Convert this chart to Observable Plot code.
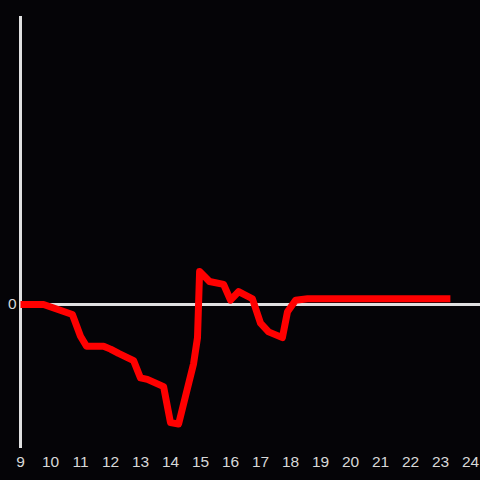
<!DOCTYPE html>
<html>
<head>
<meta charset="utf-8">
<script src="https://cdn.jsdelivr.net/npm/d3@7"></script>
<script src="https://cdn.jsdelivr.net/npm/@observablehq/plot@0.6"></script>
<style>
  html, body { margin: 0; padding: 0; background: #050407; }
  #chart { width: 480px; height: 480px; }
</style>
</head>
<body>
<div id="chart"></div>
<script>
const hours = [9.0, 9.77, 10.73, 11.0, 11.2, 11.77, 12.0, 12.27, 12.77, 13.0, 13.23, 13.77, 14.0, 14.27, 14.77, 14.9, 14.97, 15.3, 15.77, 16.0, 16.27, 16.73, 17.0, 17.27, 17.73, 17.9, 18.17, 18.57, 23.33];
const values = [0, 0, -0.069, -0.22, -0.29, -0.29, -0.31, -0.34, -0.39, -0.51, -0.52, -0.57, -0.82, -0.83, -0.41, -0.23, 0.23, 0.16, 0.14, 0.03, 0.09, 0.04, -0.13, -0.19, -0.23, -0.05, 0.03, 0.04, 0.04];
const xTicks = [9, 10, 11, 12, 13, 14, 15, 16, 17, 18, 19, 20, 21, 22, 23, 24];
const yTicks = [0];

const data = hours.map((h, i) => ({h, v: values[i]}));

const chart = Plot.plot({
  width: 480,
  height: 480,
  marginLeft: 20,
  marginRight: 10,
  marginTop: 16,
  marginBottom: 32,
  style: {background: "#050407", color: "#d8d8d8", fontSize: "15.5px", fontFamily: "Liberation Sans, Arial, sans-serif"},
  x: {domain: [9, 24], ticks: xTicks, label: null},
  y: {domain: [-1, 2], ticks: yTicks, label: null},
  marks: [
    Plot.axisX({ticks: xTicks, tickSize: 0, tickPadding: 7, fontSize: 15.5, fill: "#d8d8d8", label: null, tickFormat: d => String(d)}),
    Plot.axisY({ticks: yTicks, tickSize: 0, tickPadding: 4, fontSize: 15.5, fill: "#d8d8d8", label: null, tickFormat: d => String(d)}),
    Plot.ruleY([0], {x1: 9, x2: 24.4, stroke: "#e0e0e0", strokeWidth: 3}),
    Plot.ruleX([9], {stroke: "#e0e0e0", strokeWidth: 3}),
    Plot.line(data, {x: "h", y: "v", stroke: "#ff0000", strokeWidth: 7, strokeLinejoin: "round", strokeLinecap: "butt"})
  ]
});
document.getElementById("chart").appendChild(chart);
</script>
</body>
</html>
